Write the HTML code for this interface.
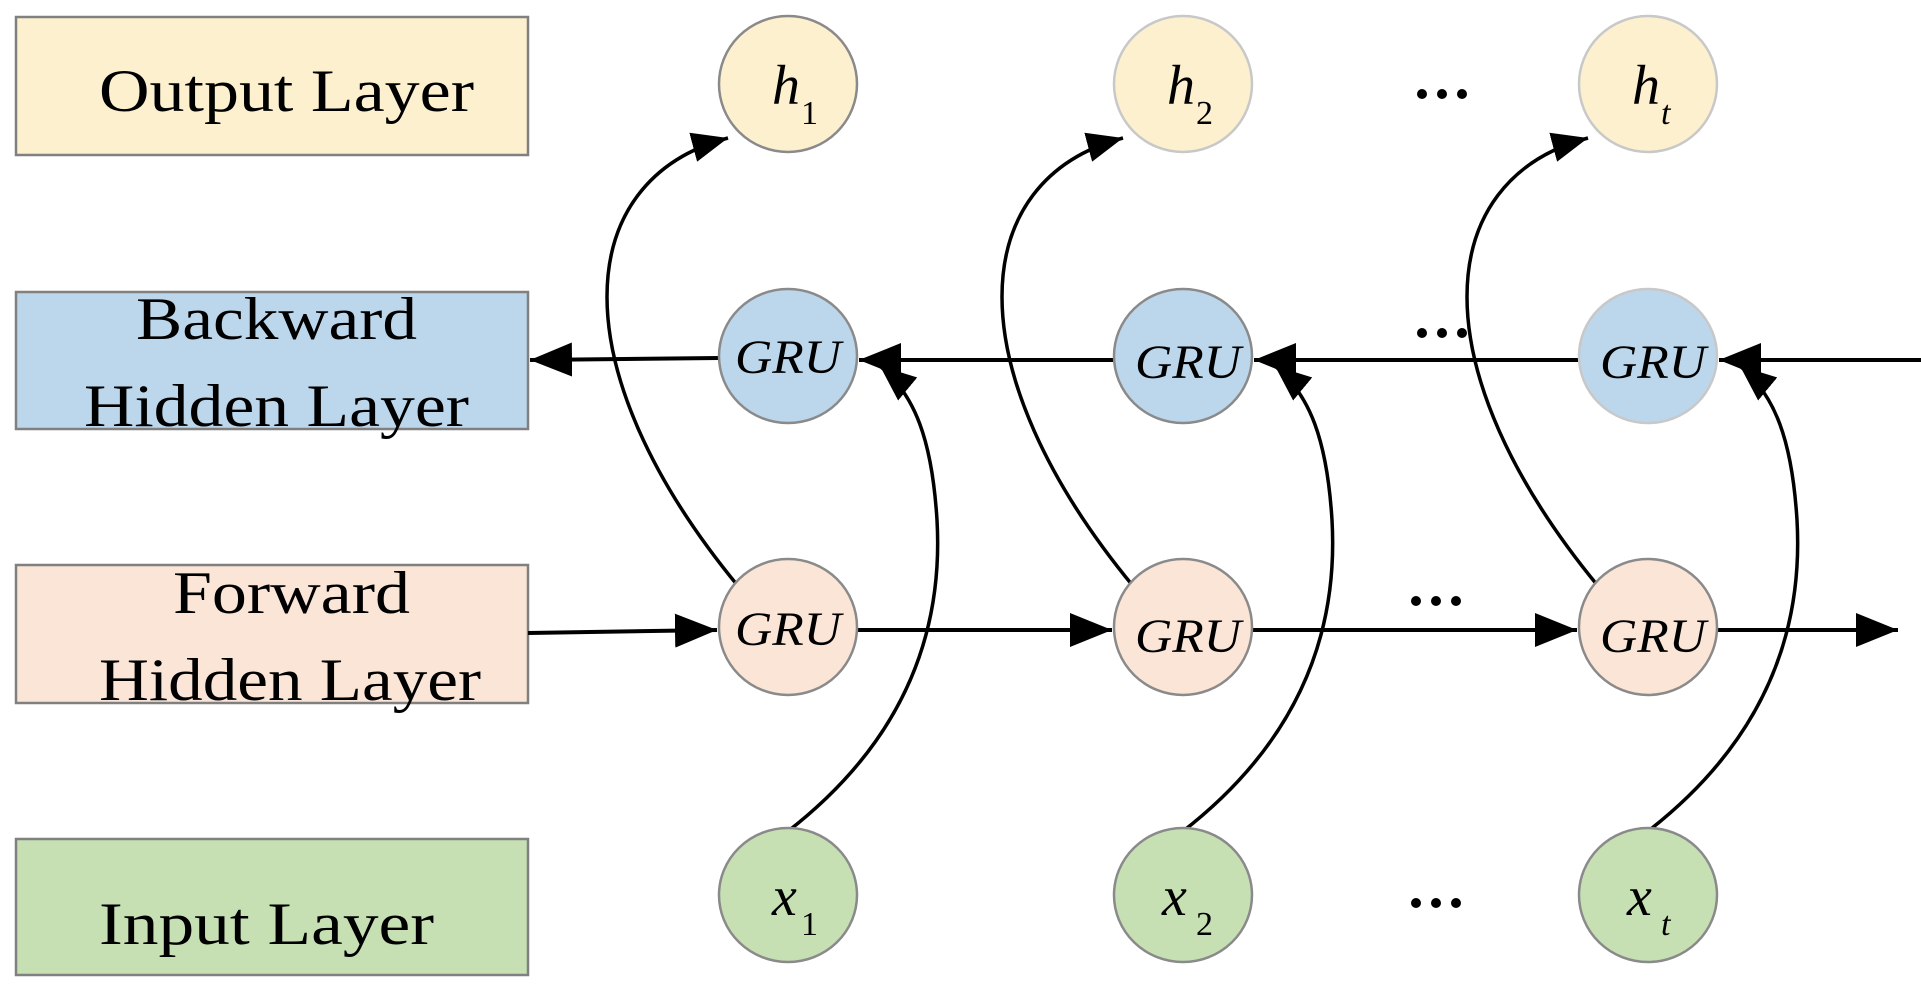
<!DOCTYPE html>
<html><head><meta charset="utf-8"><style>html,body{margin:0;padding:0;background:#fff}svg{display:block}</style></head><body>
<svg width="1921" height="988" viewBox="0 0 1921 988" xmlns="http://www.w3.org/2000/svg" font-family="Liberation Serif, serif">
<defs>
<marker id="b" viewBox="0 0 10 10" refX="10" refY="5" markerWidth="42" markerHeight="34" orient="auto" markerUnits="userSpaceOnUse" preserveAspectRatio="none"><path d="M0,0 L10,5 L0,10 z" fill="#000"/></marker>
<marker id="c" viewBox="0 0 10 10" refX="10" refY="5" markerWidth="36" markerHeight="30" orient="auto" markerUnits="userSpaceOnUse" preserveAspectRatio="none"><path d="M0,0 L10,5 L0,10 z" fill="#000"/></marker>
</defs>
<g stroke="#808080" stroke-width="2.5">
<rect x="16" y="17" width="512" height="138" fill="#fdf0cf"/>
<rect x="16" y="292" width="512" height="137" fill="#bcd7ec"/>
<rect x="16" y="565" width="512" height="138" fill="#fae5d6"/>
<rect x="16" y="839" width="512" height="136" fill="#c6e0b4"/>
</g>
<g font-size="60" fill="#000">
<text x="99" y="111" textLength="375" lengthAdjust="spacingAndGlyphs">Output Layer</text>
<text x="136" y="339" textLength="281" lengthAdjust="spacingAndGlyphs">Backward</text>
<text x="84" y="426" textLength="385" lengthAdjust="spacingAndGlyphs">Hidden Layer</text>
<text x="173" y="613" textLength="237" lengthAdjust="spacingAndGlyphs">Forward</text>
<text x="99" y="700" textLength="382" lengthAdjust="spacingAndGlyphs">Hidden Layer</text>
<text x="99" y="944" textLength="335" lengthAdjust="spacingAndGlyphs">Input Layer</text>
</g>
<g stroke="#000" stroke-width="4" fill="none">
<line x1="1921" y1="360" x2="1719" y2="360" marker-end="url(#b)"/>
<line x1="1579" y1="360" x2="1254" y2="360" marker-end="url(#b)"/>
<line x1="1114" y1="360" x2="859" y2="360" marker-end="url(#b)"/>
<line x1="719" y1="358" x2="530" y2="360" marker-end="url(#b)"/>
<line x1="528" y1="633" x2="717" y2="630" marker-end="url(#b)"/>
<line x1="857" y1="630" x2="1112" y2="630" marker-end="url(#b)"/>
<line x1="1252" y1="630" x2="1577" y2="630" marker-end="url(#b)"/>
<line x1="1717" y1="630" x2="1898" y2="630" marker-end="url(#b)"/>
</g>
<g stroke="#000" stroke-width="3.5" fill="none">
<g id="cv">
<path d="M738,586 C560,370 570,180 728,138" marker-end="url(#c)"/>
<path d="M787,832 C880,760 945,660 937,520 C932,440 915,395 880,366" marker-end="url(#c)"/>
</g>
<use href="#cv" transform="translate(395,0)"/>
<use href="#cv" transform="translate(860,0)"/>
</g>
<g stroke="#8a8a8a" stroke-width="2.5">
<ellipse cx="788" cy="84" rx="69" ry="68" fill="#fdf0cf"/>
<ellipse cx="1183" cy="84" rx="69" ry="68" fill="#fdf0cf" stroke="#c8c8c8"/>
<ellipse cx="1648" cy="84" rx="69" ry="68" fill="#fdf0cf" stroke="#c8c8c8"/>
<ellipse cx="788" cy="356" rx="69" ry="67" fill="#bcd7ec"/>
<ellipse cx="1183" cy="356" rx="69" ry="67" fill="#bcd7ec"/>
<ellipse cx="1648" cy="356" rx="69" ry="67" fill="#bcd7ec" stroke="#c8c8c8"/>
<ellipse cx="788" cy="627" rx="69" ry="68" fill="#fae5d6"/>
<ellipse cx="1183" cy="627" rx="69" ry="68" fill="#fae5d6"/>
<ellipse cx="1648" cy="627" rx="69" ry="68" fill="#fae5d6"/>
<ellipse cx="788" cy="895" rx="69" ry="67" fill="#c6e0b4"/>
<ellipse cx="1183" cy="895" rx="69" ry="67" fill="#c6e0b4"/>
<ellipse cx="1648" cy="895" rx="69" ry="67" fill="#c6e0b4"/>
</g>
<g font-style="italic" fill="#000" font-size="48">
<text x="788" y="373" text-anchor="middle" textLength="106" lengthAdjust="spacingAndGlyphs">GRU</text>
<text x="1188" y="378" text-anchor="middle" textLength="106" lengthAdjust="spacingAndGlyphs">GRU</text>
<text x="1653" y="378" text-anchor="middle" textLength="106" lengthAdjust="spacingAndGlyphs">GRU</text>
<text x="788" y="645" text-anchor="middle" textLength="106" lengthAdjust="spacingAndGlyphs">GRU</text>
<text x="1188" y="652" text-anchor="middle" textLength="106" lengthAdjust="spacingAndGlyphs">GRU</text>
<text x="1653" y="652" text-anchor="middle" textLength="106" lengthAdjust="spacingAndGlyphs">GRU</text>
</g>
<g fill="#000" font-size="56">
<text x="772" y="104" font-style="italic">h</text><text x="801" y="124" font-size="34">1</text>
<text x="1167" y="104" font-style="italic">h</text><text x="1196" y="124" font-size="34">2</text>
<text x="1632" y="104" font-style="italic">h</text><text x="1661" y="124" font-style="italic" font-size="34">t</text>
<text x="772" y="915" font-style="italic">x</text><text x="801" y="935" font-size="34">1</text>
<text x="1162" y="915" font-style="italic">x</text><text x="1196" y="935" font-size="34">2</text>
<text x="1627" y="915" font-style="italic">x</text><text x="1661" y="935" font-style="italic" font-size="34">t</text>
</g>
<g fill="#000">
<circle cx="1422" cy="94" r="5"/><circle cx="1442" cy="94" r="5"/><circle cx="1462" cy="94" r="5"/>
<circle cx="1422" cy="333" r="5"/><circle cx="1442" cy="333" r="5"/><circle cx="1462" cy="333" r="5"/>
<circle cx="1416" cy="601" r="5"/><circle cx="1436" cy="601" r="5"/><circle cx="1456" cy="601" r="5"/>
<circle cx="1416" cy="903" r="5"/><circle cx="1436" cy="903" r="5"/><circle cx="1456" cy="903" r="5"/>
</g>
</svg>
</body></html>
